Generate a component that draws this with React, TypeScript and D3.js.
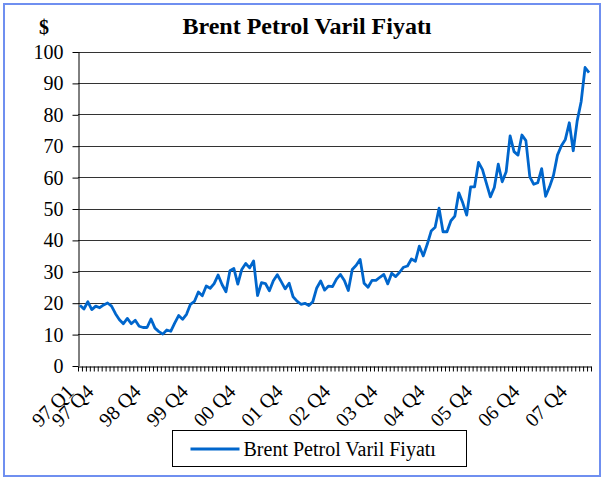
import React, { useEffect, useRef } from "react";
import * as d3 from "d3";

// monthly Brent prices ($ / barrel)
const prices: number[] = [
  19.2, 18.0, 20.3, 17.8, 18.9, 18.4, 19.3, 19.9, 18.9, 16.5,
  14.6, 13.3, 15.0, 13.3, 14.4, 12.5, 12.1, 12.1, 14.8, 11.9,
  10.8, 10.0, 11.3, 10.9, 13.5, 15.9, 14.7, 16.3, 19.5, 20.4,
  23.4, 22.2, 25.3, 24.6, 26.1, 28.8, 25.8, 23.5, 30.2, 30.9,
  25.9, 30.6, 32.5, 31.1, 33.3, 22.3, 26.4, 26.1, 23.8, 27.0,
  28.9, 26.7, 24.4, 26.2, 21.9, 20.5, 19.5, 19.8, 19.1, 20.3,
  24.7, 26.9, 24.0, 25.3, 25.1, 27.5, 29.0, 27.1, 23.9, 30.6,
  31.9, 33.8, 26.2, 24.9, 27.1, 27.1, 28.1, 29.0, 26.0, 29.4,
  28.3, 29.7, 31.3, 31.7, 33.9, 33.2, 38.0, 34.9, 38.6, 42.8,
  44.0, 50.1, 42.6, 42.6, 46.1, 47.6, 55.0, 51.8, 47.9, 56.9,
  56.9, 64.7, 62.4, 58.0, 53.7, 56.7, 64.1, 58.5, 61.7, 73.1,
  68.1, 67.0, 73.4, 71.6, 60.1, 57.7, 58.2, 62.7, 53.9, 56.9,
  60.6, 67.0, 70.0, 72.0, 77.3, 68.4, 77.9, 84.0, 94.9, 93.3,
];

const tickLabels: string[] = [
  "97 Q1", "97 Q4", "98 Q4", "99 Q4", "00 Q4", "01 Q4",
  "02 Q4", "03 Q4", "04 Q4", "05 Q4", "06 Q4", "07 Q4",
];
const tickIdx: number[] = [0, 5, 17, 29, 41, 53, 65, 77, 89, 101, 113, 125];

const yTicks: number[] = [0, 10, 20, 30, 40, 50, 60, 70, 80, 90, 100];

const seriesName = "Brent Petrol Varil Fiyatı";
const title = "Brent Petrol Varil Fiyatı";

const Chart = () => {
  const svgRef = useRef<SVGSVGElement | null>(null);
  const w = 604;
  const h = 480;
  const m = { top: 51.5, right: 13, bottom: 114.5, left: 78 };

  useEffect(() => {
    const svg = d3.select(svgRef.current);
    svg.selectAll("*").remove();
    const font = "'Liberation Serif', 'Times New Roman', serif";

    svg.append("rect")
      .attr("width", w).attr("height", h).attr("fill", "white");

    // outer frame
    svg.append("rect")
      .attr("x", 4).attr("y", 4)
      .attr("width", 596).attr("height", 472)
      .attr("fill", "none")
      .attr("stroke", "#6f8ff0")
      .attr("stroke-width", 2);

    const n = prices.length;
    const x = d3.scaleLinear().domain([0, n]).range([m.left, w - m.right]);
    const y = d3.scaleLinear().domain([0, 100]).range([h - m.bottom, m.top]);

    // gridlines
    svg.append("g")
      .selectAll("line")
      .data(yTicks.filter((d) => d > 0))
      .enter()
      .append("line")
      .attr("x1", m.left)
      .attr("x2", w - m.right)
      .attr("y1", (d) => Math.round(y(d)) + 0.5)
      .attr("y2", (d) => Math.round(y(d)) + 0.5)
      .attr("stroke", "#333")
      .attr("stroke-width", 1);

    // y axis
    const yAxis = svg.append("g")
      .attr("transform", `translate(${m.left + 0.5},0)`)
      .call(d3.axisLeft(y).tickValues(yTicks).tickSize(6).tickSizeOuter(0))
      .attr("font-family", font)
      .attr("font-size", 20);
    yAxis.select(".domain").attr("stroke", "#000");
    yAxis.selectAll(".tick line").attr("stroke", "#000").attr("transform", "translate(0,0.5)");
    yAxis.selectAll("text")
      .attr("x", -15)
      .attr("dy", "0.35em")
      .style("font-family", font)
      .style("font-size", "20px")
      .attr("fill", "#000");

    // x axis, a tick at every category boundary
    const xAxis = svg.append("g")
      .attr("transform", `translate(0,${Math.round(y(0)) + 0.5})`)
      .call(d3.axisBottom(x).tickValues(d3.range(n + 1)).tickSize(5).tickSizeOuter(0).tickFormat(() => ""));
    xAxis.select(".domain").attr("stroke", "#000");
    xAxis.selectAll(".tick line").attr("stroke", "#000");

    // rotated category labels
    svg.append("g")
      .selectAll("text")
      .data(tickLabels)
      .enter()
      .append("text")
      .attr("transform", (d, i) => `translate(${x(tickIdx[i] + 0.5) - 5},${393}) rotate(-45)`)
      .attr("text-anchor", "end")
      .style("font-family", font)
      .style("font-size", "20px")
      .text((d) => d);

    // the price line
    const line = d3.line<number>()
      .x((d, i) => x(i + 0.5))
      .y((d) => y(d));
    svg.append("path")
      .datum(prices)
      .attr("d", line)
      .attr("fill", "none")
      .attr("stroke", "#0066cc")
      .attr("stroke-width", 2.8)
      .attr("stroke-linejoin", "round");

    // title and unit
    svg.append("text")
      .attr("x", 307).attr("y", 34)
      .attr("text-anchor", "middle")
      .style("font-family", font)
      .style("font-size", "24px")
      .style("font-weight", "bold")
      .text(title);
    svg.append("text")
      .attr("x", 44).attr("y", 34)
      .attr("text-anchor", "middle")
      .style("font-family", font)
      .style("font-size", "20px")
      .style("font-weight", "bold")
      .text("$");

    // legend
    const lg = svg.append("g").attr("transform", "translate(172.5,430.5)");
    lg.append("rect")
      .attr("width", 294).attr("height", 36)
      .attr("fill", "white").attr("stroke", "#000");
    lg.append("line")
      .attr("x1", 18).attr("x2", 67)
      .attr("y1", 18.5).attr("y2", 18.5)
      .attr("stroke", "#0066cc").attr("stroke-width", 2.8);
    lg.append("text")
      .attr("x", 71).attr("y", 25)
      .style("font-family", font)
      .style("font-size", "20px")
      .text(seriesName);
  }, []);

  return (
    <svg
      ref={svgRef}
      width={w}
      height={h}
      style={{ position: "absolute", left: 0, top: 0, display: "block" }}
    ></svg>
  );
};

export default function App() {
  return <Chart />;
}
